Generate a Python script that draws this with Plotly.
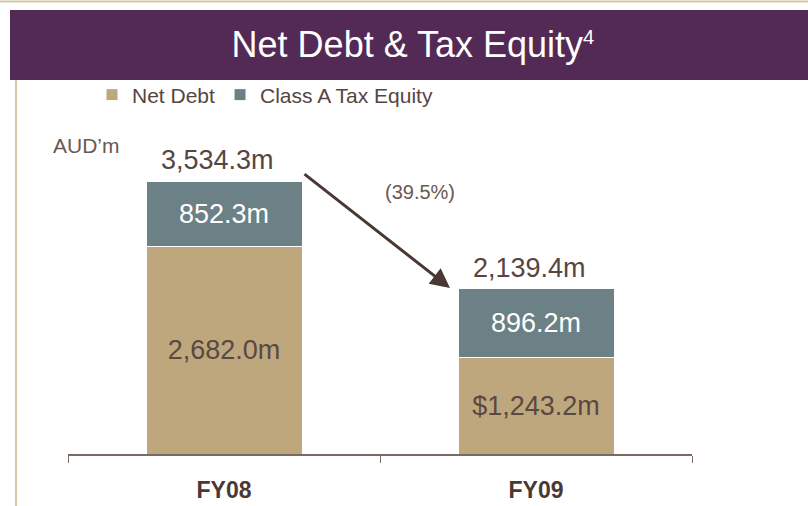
import plotly.graph_objects as go

categories = ["FY08", "FY09"]
net_debt = [2682.0, 1243.2]
tax_equity = [852.3, 896.2]
net_debt_labels = ["2,682.0m", "$1,243.2m"]
tax_equity_labels = ["852.3m", "896.2m"]
total_labels = ["3,534.3m", "2,139.4m"]
change_label = "(39.5%)"

W, H = 808, 506
L, R, T, B = 68, 116, 120, 52
pw, ph = W - L - R, H - T - B

def px_x(x):
    return (x - L) / pw

def px_y(y):
    return (H - B - y) / ph

FONT = "Liberation Sans"
TXT = "#57453f"
fig = go.Figure()
fig.add_trace(go.Bar(
    x=categories, y=net_debt, name="Net Debt",
    marker=dict(color="#bfa77d", line=dict(color="white", width=1)),
    text=net_debt_labels, textposition="inside", insidetextanchor="middle",
    constraintext="none",
    textfont=dict(color="#5a4842", size=27, family=FONT),
    width=0.5,
))
fig.add_trace(go.Bar(
    x=categories, y=tax_equity, name="Class A Tax Equity",
    marker=dict(color="#6b8186", line=dict(color="white", width=1)),
    text=tax_equity_labels, textposition="inside", insidetextanchor="middle",
    constraintext="none",
    textfont=dict(color="white", size=27, family=FONT),
    width=0.5,
))

totals = [a + b for a, b in zip(net_debt, tax_equity)]
annotations = []
for c, t, lab in zip(categories, totals, total_labels):
    annotations.append(dict(x=c, y=t, text=lab, showarrow=False, yanchor="bottom", xanchor="center",
                            yshift=4, xshift=-7, font=dict(size=27, color=TXT, family=FONT)))

annotations.append(dict(x=px_x(420), y=px_y(192), xref="paper", yref="paper", text=change_label,
                        xanchor="center", yanchor="middle",
                        showarrow=False, font=dict(size=20, color="#6a5852", family=FONT)))
annotations.append(dict(x=px_x(86), y=px_y(145), xref="paper", yref="paper", text="AUD’m",
                        xanchor="center", yanchor="middle",
                        showarrow=False, font=dict(size=21, color="#6a5852", family=FONT)))
# arrow
annotations.append(dict(x=px_x(450), y=px_y(288), xref="paper", yref="paper", text="",
                        showarrow=True, ax=303 - 450, ay=173 - 288, axref="pixel", ayref="pixel",
                        arrowhead=2, arrowsize=1.3, arrowwidth=3, arrowcolor="#4a3832"))

shapes = [
    dict(type="rect", xref="paper", yref="paper", x0=px_x(10), x1=px_x(808), y0=px_y(80), y1=px_y(10),
         fillcolor="#532a55", line=dict(width=0), layer="below"),
    dict(type="line", xref="paper", yref="paper", x0=px_x(0), x1=px_x(808), y0=px_y(1.5), y1=px_y(1.5),
         line=dict(color="#d6c7a6", width=2)),
    dict(type="line", xref="paper", yref="paper", x0=px_x(16), x1=px_x(16), y0=px_y(80), y1=px_y(506),
         line=dict(color="#d6c7a6", width=2)),
]

fig.update_layout(
    width=W, height=H, barmode="stack",
    margin=dict(l=L, r=R, t=T, b=B, autoexpand=False),
    paper_bgcolor="white", plot_bgcolor="white",
    font=dict(family=FONT, color=TXT),
    title=dict(text="Net Debt &amp; Tax Equity<span style='font-size:29px'><sup>4</sup></span>",
               xref="container", yref="container",
               x=413 / W, y=1 - 44 / H, xanchor="center", yanchor="middle",
               font=dict(size=36, color="white", family=FONT)),
    showlegend=True,
    legend=dict(orientation="h", xref="container", yref="container", x=92 / W, y=1 - 95 / H,
                xanchor="left", yanchor="middle", font=dict(size=21, color=TXT, family=FONT),
                bgcolor="rgba(0,0,0,0)", traceorder="normal", itemwidth=30),
    annotations=annotations, shapes=shapes,
)
fig.update_xaxes(showline=True, linecolor="#7a6a65", linewidth=1.5, ticks="outside",
                 tickson="boundaries", ticklen=7, tickcolor="#7a6a65", tickwidth=1,
                 tickfont=dict(size=23, color="#4a3832", family=FONT),
                 tickprefix="<b>", ticksuffix="</b>", ticklabelstandoff=15,
                 showgrid=False, zeroline=False)
fig.update_yaxes(visible=False, range=[0, ph / (273 / 3534.3)], showgrid=False)

fig.write_html("out.html", config={"displayModeBar": False},
               post_script="document.body.style.margin='0';document.body.style.overflow='hidden';")
